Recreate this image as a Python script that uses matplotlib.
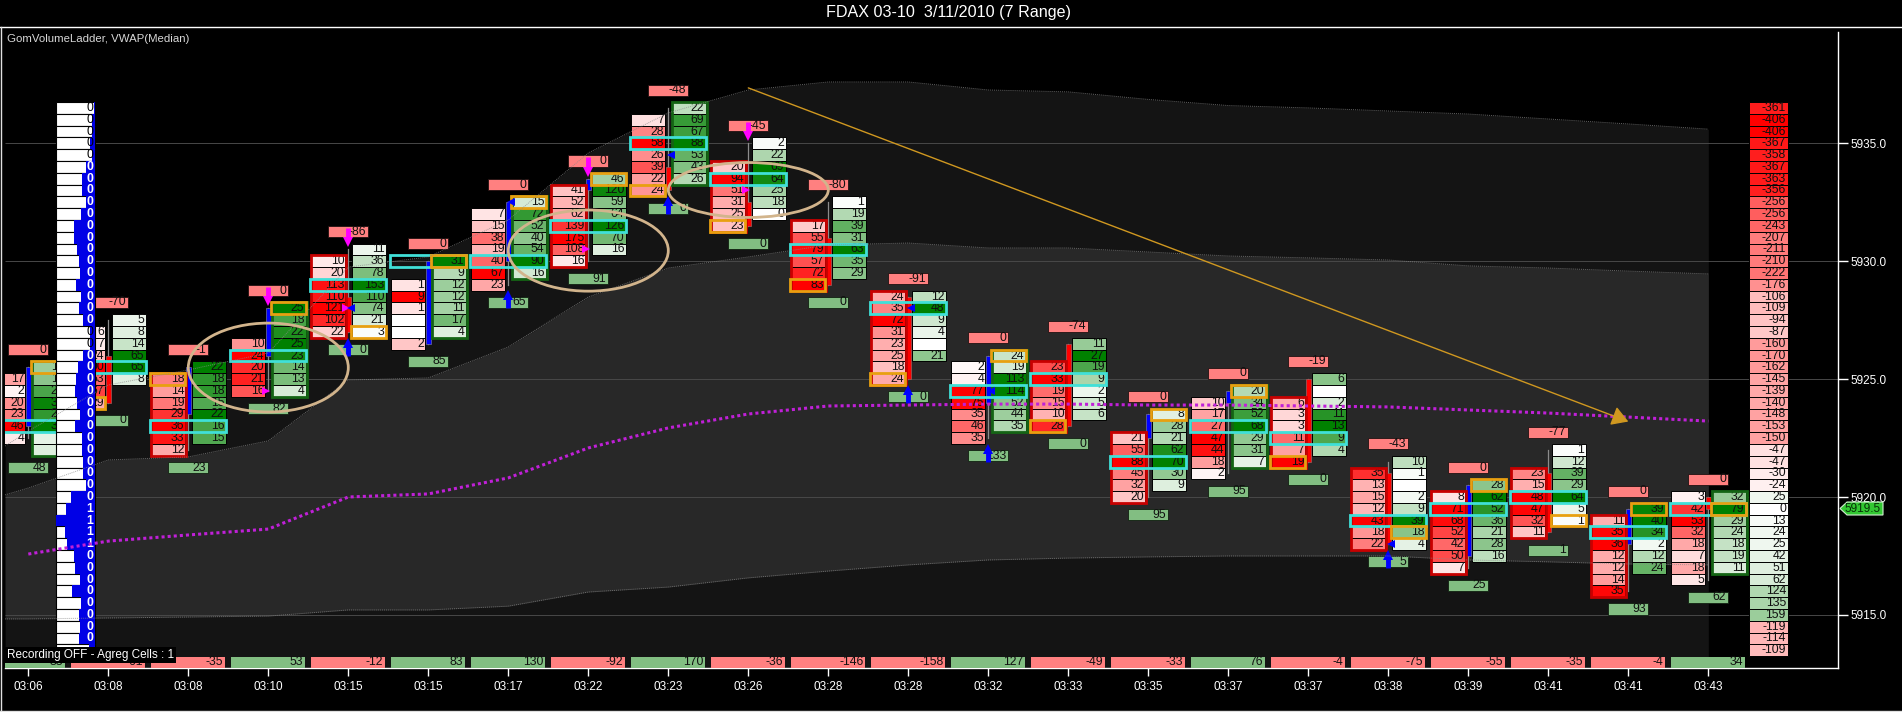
import matplotlib
matplotlib.use('Agg')
import matplotlib.pyplot as plt
from matplotlib.patches import Rectangle, Ellipse, Polygon
from matplotlib.lines import Line2D

plt.rcParams['font.family'] = ['Liberation Sans', 'DejaVu Sans']

W, H = 1902, 712

# time labels, one per range bar
times = ['03:06', '03:08', '03:08', '03:10', '03:15', '03:15', '03:17', '03:22', '03:23', '03:26', '03:28',
         '03:28', '03:32', '03:33', '03:35', '03:37', '03:37', '03:38', '03:39', '03:41', '03:41', '03:43']

# bid / ask ladders, top price of each column then volumes going down 0.5 per row
bid_tops = [5925, 5927, 5925, 5926.5, 5930, 5929, 5932, 5933, 5936, 5934, 5931.5,
            5928.5, 5925.5, 5925.5, 5922.5, 5924, 5924, 5921, 5920, 5921, 5919, 5920]
bid_vols = [
    [17, 2, 20, 23, 46, 4],
    [6, 7, 24, 90, 53, 67, 29],
    [18, 14, 19, 29, 36, 33, 12],
    [10, 24, 20, 21, 16],
    [10, 20, 113, 110, 121, 102, 22],
    [1, 9, 1, None, None, 2],
    [7, 15, 38, 19, 40, 67, 23],
    [41, 52, 62, 139, 175, 108, 16],
    [7, 28, 58, 26, 39, 22, 24],
    [20, 94, 51, 31, 25, 23],
    [17, 55, 79, 57, 72, 83],
    [24, 35, 72, 31, 23, 25, 18, 24],
    [2, 4, 77, 75, 35, 46, 35],
    [23, 33, 19, 15, 10, 28],
    [21, 55, 88, 45, 32, 20],
    [10, 17, 27, 47, 44, 18, 2],
    [6, 3, 3, 11, 7, 19],
    [35, 13, 15, 12, 43, 18, 22],
    [8, 71, 68, 52, 42, 50, 7],
    [23, 15, 48, 47, 32, 11],
    [11, 35, 36, 12, 12, 14, 35],
    [3, 42, 53, 32, 18, 7, 18, 5],
]
ask_tops = [5925.5, 5927.5, 5925.5, 5928, 5930.5, 5930, 5932.5, 5933.5, 5936.5, 5935, 5932.5,
            5928.5, 5926, 5926.5, 5923.5, 5924.5, 5925, 5921.5, 5920.5, 5922, 5919.5, 5920]
ask_vols = [
    [12, 14, 22, 30, 25, 31, 3, 4],
    [5, 8, 14, 65, 65, 8],
    [22, 18, 18, 15, 22, 16, 15],
    [25, 18, 22, 25, 23, 14, 13, 4],
    [11, 36, 78, 153, 110, 74, 21, 3],
    [31, 9, 12, 12, 11, 17, 4],
    [15, 72, 52, 40, 54, 90, 16],
    [46, 120, 59, 64, 126, 70, 16],
    [22, 69, 67, 88, 53, 43, 26],
    [2, 22, 69, 64, 25, 18, 0],
    [1, 19, 39, 31, 63, 35, 29],
    [12, 48, 9, 4, None, 21],
    [24, 19, 113, 114, 52, 44, 35],
    [11, 27, 19, 9, 2, 5, 6],
    [8, 28, 21, 62, 70, 30, 9],
    [20, 34, 52, 68, 29, 31, 7],
    [6, None, 2, 11, 13, 9, 4],
    [10, 1, None, 2, 9, 39, 18, 4],
    [28, 62, 52, 36, 21, 28, 16],
    [1, 12, 39, 29, 64, 5, 1],
    [39, 40, 34, 2, 12, 24],
    [32, 79, 29, 24, 18, 19, 11],
]
poc_prices = [5923, 5925.5, 5923, 5926, 5929, 5930, 5930, 5931.5, 5935, 5933.5, 5930.5,
              5928, 5924.5, 5925, 5921.5, 5923, 5922.5, 5919, 5919.5, 5920, 5918.5, 5919.5]
# orange cell: which column and price
hi_side = ['a', 'b', 'b', 'a', 'a', 'a', 'a', 'a', 'b', 'b', 'b', 'b', 'a', 'b', 'a', 'a', 'b', 'a', 'a', 'a', 'a', 'a']
hi_price = [5925.5, 5924, 5925, 5928, 5927, 5930, 5932.5, 5933.5, 5933, 5931.5, 5929,
            5925, 5926, 5923, 5923.5, 5924.5, 5921.5, 5918.5, 5920.5, 5919, 5919.5, 5919.5]
bid_boxed = [2, 4, 7, 9, 10, 11, 13, 14, 16, 17, 18, 19, 20]
ask_boxed = [0, 3, 5, 6, 8, 12, 15, 21]

# candles
body_top = [5925.5, 5926, 5925.5, 5928, 5928.5, 5930, 5932.5, 5933.5, 5934, 5932.5, 5931,
            5928.5, 5926, 5926.5, 5923.5, 5924.5, 5925, 5921, 5920.5, 5921, 5919.5, 5920]
body_bot = [5923, 5924, 5923.5, 5926, 5927, 5926.5, 5930, 5933, 5933, 5931.5, 5929,
            5925, 5924, 5923, 5922.5, 5924, 5921.5, 5918, 5917.5, 5918.5, 5918, 5919.5]
wick_top = [5925.5, 5927.5, 5925.5, 5928, 5930.5, 5930, 5932.5, 5933.5, 5936.5, 5935, 5932.5,
            5928.5, 5926, 5926.5, 5923.5, 5924.5, 5925, 5921.5, 5920.5, 5922, 5919.5, 5920]
wick_bot = [5922.5, 5924, 5922, 5924.5, 5927, 5926.5, 5929, 5930, 5933, 5931.5, 5929,
            5925, 5922.5, 5923, 5920, 5921, 5921.5, 5918, 5917, 5918.5, 5916, 5916.5]
body_col = ['b', 'r', 'b', 'b', 'r', 'b', 'b', 'b', 'r', 'r', 'r', 'r', 'b', 'r', 'b', 'b', 'r', 'r', 'b', 'r', 'b', 'r']

top_labels = [0, -70, -1, 0, -86, 0, 0, 0, -48, -45, -80, -91, 0, -74, 0, 0, -19, -43, 0, -77, 0, 0]
bot_labels = [48, 0, 23, 82, 0, 85, 65, 91, 0, 0, 0, 0, 133, 0, 95, 95, 0, 5, 25, 1, 93, 62]
bar_delta = [33, -61, -35, 53, -12, 83, 130, -92, 170, -36, -146, -158, 127, -49, -33, 76, -4, -75, -55, -35, -4, 34]

# bars with arrows and the small triangles (bar, price)
magenta_arrows = [3, 4, 7, 9]
blue_arrows = [4, 6, 8, 11, 12, 17]
magenta_tri = [(3, 5924.5), (4, 5928), (7, 5930.5), (9, 5933)]
blue_tri = [(4, 5928), (6, 5932.5), (8, 5934.5), (11, 5928), (12, 5924.5), (17, 5918)]

# volume ladder on the left
ladder_prices = [5936.5 - 0.5 * k for k in range(47)]
ladder_vol = [1, 3, 3, 5, 3, 9, 13, 13, 9, 14, 21, 21, 18, 16, 15, 19, 14, 16, 12, 5, 5, 12, 17, 19, 20, 18, 15, 20,
              13, 13, 12, 12, 9, 24, 29, 39, 30, 28, 21, 20, 15, 23, 14, 16, 15, 16, 6]
# the last row sits under the recording note and shows no number
ladder_txt = [0] * 34 + [1, 1, 1, 1] + [0] * 8 + [None]

# delta profile on the right
profile_vals = [-361, -406, -406, -367, -358, -367, -363, -356, -256, -256, -243, -207, -211, -210, -222, -176,
                -106, -109, -94, -87, -160, -170, -162, -145, -139, -140, -148, -153, -150, -47, -47, -30, -24,
                25, 0, 13, 24, 25, 42, 51, 62, 124, 135, 159, -119, -114, -109]

# vwap and bands, first point sits on the left edge, the rest on the bars
band_x = [-0.29] + list(range(22))
band_outer = [5922.16, 5922.80, 5924.75, 5925.39, 5926.11, 5929.75, 5930.18, 5931.75, 5934.59, 5936.29, 5937.26, 5937.60,
              5937.60, 5937.26, 5937.18, 5936.86, 5936.60, 5936.50, 5936.37, 5936.24, 5936.03, 5935.82, 5935.60]
band_inner = [5920.09, 5920.38, 5921.57, 5921.70, 5922.38, 5924.96, 5925.05, 5926.36, 5928.48, 5929.71, 5930.18, 5930.69,
              5930.77, 5930.56, 5930.56, 5930.39, 5930.22, 5930.14, 5930.05, 5929.80, 5929.71, 5929.58, 5929.46]
band_lower = [5914.83, 5914.83, 5914.87, 5914.91, 5914.95, 5915.21, 5915.21, 5915.37, 5915.97, 5916.18, 5916.57, 5916.86,
              5917.12, 5917.33, 5917.41, 5917.46, 5917.50, 5917.50, 5917.50, 5917.33, 5917.25, 5917.16, 5917.12]
vwap = [5917.58, 5918.13, 5918.39, 5918.64, 5920.00, 5920.13, 5920.81, 5922.08, 5922.93, 5923.52, 5923.86,
        5923.90, 5923.94, 5923.94, 5923.90, 5923.90, 5923.86, 5923.82, 5923.69, 5923.56, 5923.39, 5923.22]

# x scale: 80 px per bar, bar 0 at px 28.3
PX = 1 / 80.0
x_left, x_right = (5 - 28.3) * PX, (1838 - 28.3) * PX
y_bot = 5935 - (668 - 143.3) / 23.58
y_top = 5935 + (143.3 - 32) / 23.58

fig = plt.figure(figsize=(W / 100, H / 100), dpi=100, facecolor='black')
ax = fig.add_axes([5 / W, 1 - 668 / H, (1838 - 5) / W, (668 - 32) / H], facecolor='black')
ax.set_xlim(x_left, x_right)
ax.set_ylim(y_bot, y_top)

def red_col(v, vmax):
    r = min(abs(v) / vmax, 1)
    return (1, 1 - r, 1 - r)

def green_col(v, vmax):
    r = min(abs(v) / vmax, 1)
    return (1 - r, 1 - r * 0.5, 1 - r)

# background bands, only as far as the last bar
ax.fill_between(band_x, y_bot, band_outer, color='#141414', lw=0, zorder=1)
ax.fill_between(band_x, band_lower, band_inner, color='#282828', lw=0, zorder=1.2)
ax.hlines([5915, 5920, 5925, 5930, 5935], x_left, x_right, color='#484848', lw=0.7, zorder=1.5)

CELL_FS = 8.8
TXT = dict(fontsize=CELL_FS, color='#101010', va='center', ha='right', zorder=3.6)

for i in range(22):
    # bid column
    vols = bid_vols[i]
    vmax = max(v for v in vols if v is not None)
    ys = [bid_tops[i] - 0.5 * k for k in range(len(vols))]
    cols = ['white' if v is None else red_col(v, vmax) for v in vols]
    ax.barh(ys, 34 * PX, left=i - 37 * PX, height=0.5, color=cols, edgecolor='black', lw=0.7, zorder=3)
    for y, v in zip(ys, vols):
        if v is not None:
            ax.text(i - 4 * PX, y, str(v), **TXT)
    if i in bid_boxed:
        ax.add_patch(Rectangle((i - 37.5 * PX, ys[-1] - 0.25), 35 * PX, 0.5 * len(vols), fill=False,
                               ec='#c80000', lw=2, zorder=3.8))

    # ask column
    vols = ask_vols[i]
    vmax = max(v for v in vols if v is not None)
    ys = [ask_tops[i] - 0.5 * k for k in range(len(vols))]
    cols = ['white' if v is None else green_col(v, vmax) for v in vols]
    ax.barh(ys, 34 * PX, left=i + 4 * PX, height=0.5, color=cols, edgecolor='black', lw=0.7, zorder=3)
    for y, v in zip(ys, vols):
        if v is not None:
            ax.text(i + 36 * PX, y, str(v), **TXT)
    if i in ask_boxed:
        ax.add_patch(Rectangle((i + 3.5 * PX, ys[-1] - 0.25), 35 * PX, 0.5 * len(vols), fill=False,
                               ec='#146414', lw=2, zorder=3.8))

    # candle
    wick_c = '#8c8c8c'
    ax.plot([i, i], [wick_bot[i], wick_top[i]], color=wick_c, lw=0.9, zorder=3.2)
    c = '#0000ff' if body_col[i] == 'b' else '#ff0000'
    ax.bar(i, body_top[i] - body_bot[i], bottom=body_bot[i], width=5 * PX, color=c, edgecolor='#7070a0' if body_col[i] == 'b' else '#a06060',
           lw=0.5, zorder=3.3)

    # POC row and the orange cell
    ax.add_patch(Rectangle((i - 38 * PX, poc_prices[i] - 0.25), 76 * PX, 0.5, fill=False, ec='#40e0d8', lw=2, zorder=4))
    xo = i - 38 * PX if hi_side[i] == 'b' else i + 3 * PX
    ax.add_patch(Rectangle((xo, hi_price[i] - 0.25), 35 * PX, 0.5, fill=False, ec='#e8a010', lw=2, zorder=4.2))

    # labels above and below the bar
    hi = max(bid_tops[i], ask_tops[i])
    lo = min(bid_tops[i] - 0.5 * (len(bid_vols[i]) - 1), ask_tops[i] - 0.5 * (len(ask_vols[i]) - 1))
    ax.barh(hi + 0.75, 40 * PX, left=i - 20 * PX, height=0.47, color='#ff8080', edgecolor='#201010', lw=0.6, zorder=3)
    ax.text(i + 18 * PX, hi + 0.75, str(top_labels[i]), **TXT)
    ax.barh(lo - 0.75, 40 * PX, left=i - 20 * PX, height=0.47, color='#82be82', edgecolor='#102010', lw=0.6, zorder=3)
    ax.text(i + 18 * PX, lo - 0.75, str(bot_labels[i]), **TXT)

    if i in magenta_arrows:
        ax.plot([i, i], [hi + 0.9, hi + 0.45], color='#ff00ff', lw=3.5, solid_capstyle='butt', zorder=4.5)
        ax.plot(i, hi + 0.3, marker='v', ms=6.5, color='#ff00ff', mew=0, zorder=4.5)
    if i in blue_arrows:
        ax.plot([i, i], [lo - 1.0, lo - 0.6], color='#0000ff', lw=3.5, solid_capstyle='butt', zorder=4.5)
        ax.plot(i, lo - 0.45, marker='^', ms=6.5, color='#0000ff', mew=0, zorder=4.5)

    # total row at the bottom
    col = '#82be82' if bar_delta[i] > 0 else '#ff8080'
    ax.barh(y_bot + 0.235, 74 * PX, left=i - 37 * PX, height=0.47, color=col, lw=0, zorder=4.6)
    ax.text(i + 35 * PX, y_bot + 0.235, str(bar_delta[i]), fontsize=CELL_FS, color='#101010', va='center', ha='right', zorder=4.7)

for b, p in magenta_tri:
    ax.plot(b - 2 * PX, p, marker='>', ms=5.5, color='#ff00ff', mew=0, zorder=4.5)
for b, p in blue_tri:
    ax.plot(b + 3 * PX, p, marker='<', ms=5.5, color='#0000ff', mew=0, zorder=4.5)

# volume ladder
lad_right = 66.7 * PX
ax.barh(ladder_prices, 39 * PX, left=lad_right - 39 * PX, height=0.5, color='white', edgecolor='black', lw=0.8, zorder=5)
ax.barh(ladder_prices, [v * PX for v in ladder_vol], left=[lad_right - v * PX for v in ladder_vol], height=0.5,
        color='#0000e6', lw=0, zorder=5.1)
for y, v, t in zip(ladder_prices, ladder_vol, ladder_txt):
    if t is None:
        continue
    big = v >= 8
    ax.text(lad_right - 2 * PX, y, str(t), fontsize=CELL_FS, va='center', ha='right', zorder=5.2,
            color='white' if big else 'black', fontweight='bold' if big else 'normal')

# delta profile at the right
prof_x = (1749 - 28.3) * PX
prof_cols = [red_col(v, 406) if v < 0 else green_col(v, 406) for v in profile_vals]
ax.barh(ladder_prices, 39 * PX, left=prof_x, height=0.5, color=prof_cols, edgecolor='black', lw=0.7, zorder=3)
for y, v in zip(ladder_prices, profile_vals):
    ax.text(prof_x + 37 * PX, y, str(v), **TXT)

# things drawn over the cells
ax.plot(band_x, band_outer, color='#8a8a8a', lw=0.7, ls=(0, (1, 1)), alpha=0.7, zorder=5.5)
ax.plot(band_x, band_inner, color='#8a8a8a', lw=0.7, ls=(0, (1, 1)), alpha=0.7, zorder=5.5)
ax.plot(band_x, band_lower, color='#8a8a8a', lw=0.7, ls=(0, (1, 1)), alpha=0.7, zorder=5.5)
ax.plot(range(22), vwap, color='#c020d8', lw=2.2, ls=(0, (1, 1)), zorder=5.6)

for xc, yc, w, h in [(3, 5925.49, 2, 3.77), (7, 5930.45, 2, 3.44), (9, 5933.02, 2, 2.33)]:
    ax.add_patch(Ellipse((xc, yc), w, h, fill=False, ec='#d2b48c', lw=2, zorder=5.7))

ax.annotate('', xy=(20, 5923.2), xytext=(9, 5937.35),
            arrowprops=dict(arrowstyle='-|>,head_length=1.0,head_width=0.6', color='#d09820', lw=1, shrinkA=0, shrinkB=0),
            zorder=5.8)

# axes
ax.set_xticks(range(22))
ax.set_xticklabels(times)
ax.set_yticks([5915, 5920, 5925, 5930, 5935])
ax.set_yticklabels(['5915.0', '5920.0', '5925.0', '5930.0', '5935.0'])
ax.yaxis.tick_right()
ax.tick_params(axis='x', colors='white', length=6, width=1, labelsize=8.5, pad=3)
ax.tick_params(axis='y', colors='white', length=7, width=1, labelsize=8.5, pad=2)
for s in ['top', 'left']:
    ax.spines[s].set_visible(False)
for s in ['bottom', 'right']:
    ax.spines[s].set_color('white')
    ax.spines[s].set_linewidth(1)

# title, notes and the frame, in figure pixels
def fx(x):
    return x / W

def fy(y):
    return 1 - y / H

fig.text(fx(948), fy(13), 'FDAX 03-10  3/11/2010 (7 Range)', color='white', fontsize=11.6, ha='center', va='center')
fig.text(fx(7), fy(39), 'GomVolumeLadder, VWAP(Median)', color='#d8d8d8', fontsize=8.2, ha='left', va='center')
fig.text(fx(7), fy(655), 'Recording OFF - Agreg Cells : 1', color='white', fontsize=8.5, ha='left', va='center', zorder=10,
         bbox=dict(facecolor='black', edgecolor='none', pad=1.5))

fig.add_artist(Line2D([0, 1], [fy(27), fy(27)], color='white', lw=1))
fig.add_artist(Line2D([fx(1), fx(1)], [fy(27), fy(711)], color='#e0e0e0', lw=1))
fig.add_artist(Line2D([0, 1], [fy(711), fy(711)], color='#e0e0e0', lw=1))

# last price tag
tag = [(1840, 508.5), (1847, 502), (1883, 502), (1883, 515), (1847, 515)]
fig.add_artist(Polygon([(fx(a), fy(b)) for a, b in tag], closed=True, transform=fig.transFigure,
                       facecolor='#32c832', edgecolor='#d0f0d0', lw=0.8, zorder=8))
fig.text(fx(1881), fy(508.5), '5919.5', color='#063006', fontsize=8.5, ha='right', va='center', zorder=9)

fig.savefig('out.png', dpi=100, facecolor='black')
